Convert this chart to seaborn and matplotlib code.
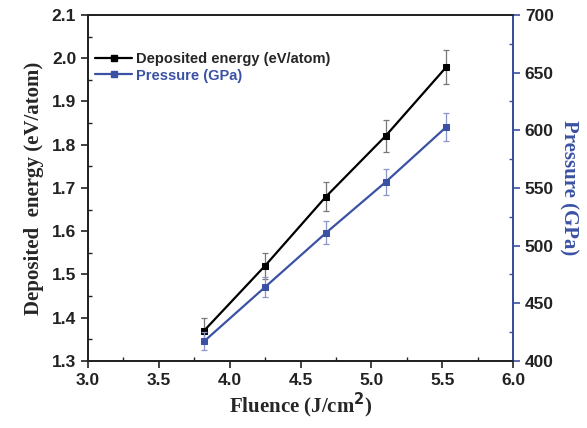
import numpy as np
import pandas as pd
import matplotlib
matplotlib.use("Agg")
import matplotlib.pyplot as plt
import seaborn as sns
from matplotlib.ticker import MultipleLocator
from matplotlib.lines import Line2D

# data
fluence = [3.82, 4.25, 4.68, 5.10, 5.53]
energy = [1.37, 1.52, 1.68, 1.82, 1.98]
energy_err = [0.028, 0.030, 0.033, 0.037, 0.040]
pressure = [417, 464, 511, 555, 603]
pressure_err = [8, 9, 10, 11, 12]

blue = "#3b52a4"

sns.set_theme(style="ticks")
plt.rcParams["font.family"] = ["Liberation Sans", "DejaVu Sans"]

df = pd.DataFrame({"fluence": fluence, "energy": energy, "pressure": pressure})

fig = plt.figure(figsize=(5.87, 4.28), dpi=100)
ax = fig.add_axes([0.150, 0.157, 0.724, 0.808])
ax2 = ax.twinx()

# black series on left axis
ax.errorbar(fluence, energy, yerr=energy_err, fmt="none", ecolor="#777777",
            elinewidth=0.9, capsize=2.5, capthick=0.9, zorder=2)
sns.lineplot(data=df, x="fluence", y="energy", ax=ax, color="black",
             marker="s", markersize=4.8, markeredgecolor="black", linewidth=1.6,
             zorder=3)

# blue series on right axis
ax2.errorbar(fluence, pressure, yerr=pressure_err, fmt="none", ecolor="#8a96c8",
             elinewidth=0.9, capsize=2.5, capthick=0.9, zorder=2)
sns.lineplot(data=df, x="fluence", y="pressure", ax=ax2, color=blue,
             marker="s", markersize=4.8, markeredgecolor=blue, linewidth=1.6,
             zorder=3)

ax.set_xlim(3.0, 6.0)
ax.set_ylim(1.3, 2.1)
ax2.set_ylim(400, 700)

ax.xaxis.set_major_locator(MultipleLocator(0.5))
ax.xaxis.set_minor_locator(MultipleLocator(0.25))
ax.yaxis.set_major_locator(MultipleLocator(0.1))
ax.yaxis.set_minor_locator(MultipleLocator(0.05))
ax2.yaxis.set_major_locator(MultipleLocator(50))
ax2.yaxis.set_minor_locator(MultipleLocator(25))
ax.xaxis.set_major_formatter(plt.FormatStrFormatter("%.1f"))
ax.yaxis.set_major_formatter(plt.FormatStrFormatter("%.1f"))

for a in (ax, ax2):
    for s in a.spines.values():
        s.set_linewidth(1.3)
        s.set_color("#222222")
ax2.spines["right"].set_color(blue)

ax.tick_params(axis="both", which="major", direction="out", length=5, width=1.2,
               labelsize=12.5, colors="#222222")
ax.tick_params(axis="both", which="minor", direction="in", length=3, width=1.0,
               colors="#222222")
ax2.tick_params(axis="y", which="major", direction="out", length=5, width=1.2,
                labelsize=12.5, color=blue, labelcolor="#222222")
ax2.tick_params(axis="y", which="minor", direction="in", length=3, width=1.0,
                color=blue)
for lab in ax.get_xticklabels() + ax.get_yticklabels() + ax2.get_yticklabels():
    lab.set_fontweight("bold")

ax.set_xlabel("Fluence (J/cm$\\mathbf{^2}$)", fontsize=15, fontweight="bold",
              family="Liberation Serif", labelpad=2)
ax.set_ylabel("Deposited  energy (eV/atom)", fontsize=15, fontweight="bold",
              family="Liberation Serif", labelpad=6)
ax2.set_ylabel("Pressure (GPa)", fontsize=15, fontweight="bold",
               family="Liberation Serif", color=blue, rotation=270, labelpad=18)

handles = [
    Line2D([], [], color="black", marker="s", markersize=4.5, linewidth=1.6),
    Line2D([], [], color=blue, marker="s", markersize=4.5, linewidth=1.6),
]
leg = ax.legend(handles, ["Deposited energy (eV/atom)", "Pressure (GPa)"],
                loc="upper left", bbox_to_anchor=(0.0, 0.915), frameon=False,
                prop={"weight": "bold", "size": 10.5}, handlelength=2.5,
                handletextpad=0.3, labelspacing=0.2, borderaxespad=0.1)
leg.get_texts()[1].set_color(blue)

fig.savefig("out.png", dpi=100)
